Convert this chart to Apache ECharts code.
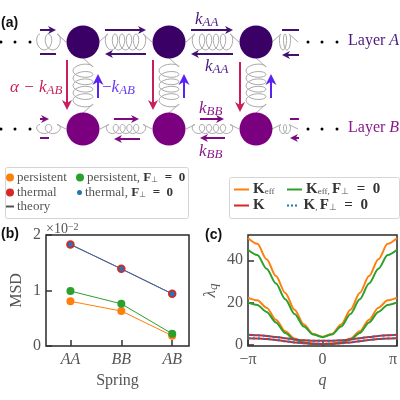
<!DOCTYPE html>
<html><head><meta charset="utf-8">
<style>html,body{margin:0;padding:0;background:#fff}#c{width:400px;height:400px}</style>
<script src="https://cdn.jsdelivr.net/npm/echarts@6/dist/echarts.min.js"></script>
</head><body><div id="c"></div>
<script>
// ---- panel (b)
const springs = ['AA','BB','AB'];
const msdPersistent = [0.805,0.63,0.186];
const msdThermal = [1.83,1.39,0.94];
const msdPersistentF0 = [0.99,0.76,0.22];
const msdThermalF0 = [1.83,1.39,0.94];
// ---- panel (c): q in units of pi
const qValues = [-1,-0.875,-0.75,-0.625,-0.5,-0.375,-0.25,-0.125,0,0.125,0.25,0.375,0.5,0.625,0.75,0.875,1];
const keffUpper = [50.6,47.8,40.5,32.5,24.5,16.5,9.5,5,3.7,5,9.5,16.5,24.5,32.5,40.5,47.8,50.6];
const keffLower = [22.3,21,17.5,11.8,6.3,2.9,1.1,0.5,0.3,0.5,1.1,2.9,6.3,11.8,17.5,21,22.3];
const keffF0Upper = [45,42.5,36,29,21.5,14.5,8.5,4.8,3.5,4.8,8.5,14.5,21.5,29,36,42.5,45];
const keffF0Lower = [20,18.8,15.5,10.5,5.5,2.4,0.8,0.3,0.2,0.3,0.8,2.4,5.5,10.5,15.5,18.8,20];
const kUpper = [4.6,4.4,4.1,3.6,3,2.4,2,1.8,1.8,1.8,2,2.4,3,3.6,4.1,4.4,4.6];
const kLower = [3,2.9,2.6,2.2,1.6,1,0.6,0.35,0.3,0.35,0.6,1,1.6,2.2,2.6,2.9,3];
// ---- panel (a): schematic, in a 400 x 160 unit space
const nodeColumns = [83,169,256];
const layerRows = [42,129];
const dotColumns = [1,15,30,308,322,337];
const hSprings = [[40,42,66,42,2,8,1],[99,42,152,42,5,8,0],[186,42,239,42,5,8,0],[272,42,298,42,2,8,0],
                  [40,129,66,129,2,4.5,1],[100,129,152,129,5,4.5,0],[186,129,239,129,5,4.5,0],[272,129,298,129,2,4.5,0]];
const vSprings = [[83,58,83,113,5,10],[169,58,169,113,5,10],[256,58,256,113,5,10]];
// x1,y1,x2,y2,colour index,head length
const arrows = [
 [40,30,56,30,0,8],[40,54,56,54,0,0],[105,30,146,30,0,8],[146,54,105,54,0,8],[191,30,233,30,0,8],[233,54,191,54,0,8],[282,30,299,30,0,0],[299,55,282,55,0,8],
 [40,119,49,119,1,8],[40,138,49,138,1,0],[114,119,139,119,1,8],[140,139,114,139,1,8],[200,119,224,119,1,8],[225,138,200,138,1,8],[290,119,299,119,1,0],[299,138,290,138,1,8],
 [67,60,67,110,2,10],[153,60,153,110,2,10],[240,62,240,112,2,10],
 [98,98,98,74,3,11],[184,98,184,74,3,11],[271,98,271,74,3,11]];
const arrowColors = ['#42106e','#7d0a80','#c81e5c','#5a22f5'];

const serif = '"Liberation Serif", serif';
const gray = '#555';
const mathRich = (c,size) => ({
  i:{fontFamily:serif,fontStyle:'italic',fontSize:size,color:c,fill:c},
  s:{fontFamily:serif,fontStyle:'italic',fontSize:size-4,color:c,fill:c,verticalAlign:'bottom',padding:[6,0,0,0]},
  n:{fontFamily:serif,fontSize:size,color:c,fill:c}
});
const legendRichB = {
  a:{fontFamily:serif,fontSize:13,color:gray},
  b:{fontFamily:serif,fontSize:13,fontWeight:'bold',color:'#333'},
  s:{fontFamily:serif,fontSize:8,color:gray,padding:[5,0,0,0]}
};
const legendRichC = {
  b:{fontFamily:serif,fontSize:15,fontWeight:'bold',color:'#333'},
  s:{fontFamily:serif,fontSize:9,color:gray,padding:[5,0,0,0]}
};
const legendText = {
  'persistent':'{a|persistent}','thermal':'{a|thermal}','theory':'{a|theory}',
  'persistent, F⊥ = 0':'{a|persistent, }{b|F}{s|⊥}{b|\u2002=\u20020}',
  'thermal, F⊥ = 0':'{a|thermal, }{b|F}{s|⊥}{b|\u2002=\u20020}',
  'Keff':'{b|K}{s|eff}','K':'{b|K}',
  'Keff, F⊥ = 0':'{b|K}{s|eff, }{b|F}{s|⊥}{b|\u2002=\u20020}',
  'K, F⊥ = 0':'{b|K}{s|, }{b|F}{s|⊥}{b|\u2002=\u20020}'
};
const legendB = {orient:'vertical',padding:0,selectedMode:false,formatter:n=>legendText[n],textStyle:{rich:legendRichB,padding:[0,0,0,-2]}};
const legendC = {orient:'vertical',padding:0,selectedMode:false,formatter:n=>legendText[n],textStyle:{rich:legendRichC,padding:[0,0,0,-1]}};

function coil(api,x1,y1,x2,y2,n,amp,openStart){
  const p1=api.coord([x1,y1]),p2=api.coord([x2,y2]);
  const horizontal=Math.abs(x2-x1)>Math.abs(y2-y1);
  const L=horizontal?p2[0]-p1[0]:p2[1]-p1[1];
  const c0=horizontal?p1[1]:p1[0];
  const lead=openStart?0:(horizontal?9:9);
  const leadEnd=horizontal?9:9;
  const span=L-lead-leadEnd;
  const rx=(span/n)*0.62;
  const pts=[];
  const base=horizontal?p1[0]:p1[1];
  if(!openStart)pts.push(horizontal?[p1[0],c0]:[c0,p1[1]]);
  const steps=n*18;
  for(let i=0;i<=steps;i++){
    const s=i/steps,th=2*Math.PI*n*s;
    const along=base+lead+span*s-rx*Math.sin(th);
    const across=c0-amp*Math.cos(th)*(horizontal?1:-1);
    pts.push(horizontal?[along,across]:[across,along]);
  }
  pts.push(horizontal?[p2[0],c0]:[c0,p2[1]]);
  return pts;
}
const springRender=(params,api)=>({type:'polyline',shape:{points:coil(api,api.value(0),api.value(1),api.value(2),api.value(3),api.value(4),api.value(5),api.value(6))},style:{stroke:'#aaaaaa',lineWidth:1,fill:null},silent:true});
const arrowRender=(params,api)=>{
  const a=api.coord([api.value(0),api.value(1)]),b=api.coord([api.value(2),api.value(3)]);
  const col=arrowColors[api.value(4)],hl=api.value(5);
  const d=Math.hypot(b[0]-a[0],b[1]-a[1]),ux=(b[0]-a[0])/d,uy=(b[1]-a[1])/d,nx=-uy,ny=ux,hw=hl*0.5;
  const kids=[{type:'line',shape:{x1:a[0],y1:a[1],x2:b[0]-ux*hl*0.5,y2:b[1]-uy*hl*0.5},style:{stroke:col,lineWidth:2}}];
  if(hl>0)kids.push({type:'polygon',shape:{points:[[b[0],b[1]],[b[0]-ux*hl+nx*hw,b[1]-uy*hl+ny*hw],[b[0]-ux*hl*0.7,b[1]-uy*hl*0.7],[b[0]-ux*hl-nx*hw,b[1]-uy*hl-ny*hw]]},style:{fill:col}});
  return {type:'group',children:kids};
};
const label=(x,y,text,rich)=>({type:'text',x,y,silent:true,style:{text,rich,fontFamily:serif,fontSize:17}});
const panel=(x,y,t)=>({type:'text',x,y,silent:true,style:{text:t,fontFamily:'"Liberation Sans",sans-serif',fontWeight:'bold',fontSize:14,fill:'#111'}});
const cA='#4a1a80',cB='#8a1a8a',cR='#c81e5c',cP='#6a3cf0';
const axisName={fontFamily:serif,fontSize:16,color:gray};
const tick={show:true,inside:true,length:6,lineStyle:{color:'#333',width:1.5}};
const tickFont={fontFamily:serif,fontSize:16,color:gray};
const lineS=(name,data,color,extra)=>Object.assign({type:'line',name,xAxisIndex:1,yAxisIndex:1,data:qValues.map((q,i)=>[q,data[i]]),smooth:0.3,smoothMonotone:'x',symbol:'none',lineStyle:{color,width:2},itemStyle:{color},silent:true},extra||{});
const msdS=(name,data,color,size)=>({type:'line',name,xAxisIndex:0,yAxisIndex:0,data:data.map((v,i)=>[i,v]),symbol:'circle',symbolSize:size,lineStyle:{color,width:1},itemStyle:{color},silent:true});

const chart=echarts.init(document.getElementById('c'),null,{renderer:'canvas'});
chart.setOption({
  animation:false,backgroundColor:'#fff',
  grid:[
    {left:46,top:235,width:143,height:111,show:true,borderColor:'#2a2a2a',borderWidth:1.5,backgroundColor:'transparent'},
    {left:248,top:235,width:149,height:111,show:true,borderColor:'#2a2a2a',borderWidth:1.5,backgroundColor:'transparent'},
    {left:0,top:0,width:400,height:160}
  ],
  xAxis:[
    {type:'value',gridIndex:0,min:-0.48,max:2.33,axisLine:{show:false,onZero:false},splitLine:{show:false},
     axisTick:Object.assign({customValues:[0,1,2]},tick),
     axisLabel:Object.assign({customValues:[0,1,2],formatter:v=>springs[v],fontStyle:'italic',margin:6},tickFont),
     name:'Spring',nameLocation:'middle',nameGap:27,nameTextStyle:axisName},
    {type:'value',gridIndex:1,min:-1,max:1,interval:1,axisLine:{show:false,onZero:false},splitLine:{show:false},axisTick:tick,
     axisLabel:Object.assign({formatter:v=>v===0?'0':(v<0?'−π':'π'),margin:6,hideOverlap:false,alignMinLabel:'center',alignMaxLabel:'right'},tickFont),
     name:'q',nameLocation:'middle',nameGap:27,nameTextStyle:Object.assign({},axisName,{fontStyle:'italic'})},
    {type:'value',gridIndex:2,min:0,max:400,show:false}
  ],
  yAxis:[
    {type:'value',gridIndex:0,min:0,max:2,interval:1,axisLine:{show:false,onZero:false},splitLine:{show:false},axisTick:tick,
     axisLabel:Object.assign({margin:5},tickFont),
     name:'MSD',nameLocation:'middle',nameGap:21,nameTextStyle:axisName},
    {type:'value',gridIndex:1,min:-0.7,max:52,axisLine:{show:false,onZero:false},splitLine:{show:false},
     axisTick:Object.assign({customValues:[0,20,40]},tick),
     axisLabel:Object.assign({customValues:[0,20,40],margin:5},tickFont),
     name:'{i|λ}{s|q}',nameLocation:'middle',nameGap:28,nameTextStyle:{rich:mathRich(gray,17)}},
    {type:'value',gridIndex:2,min:0,max:160,inverse:true,show:false}
  ],
  legend:[
    Object.assign({},legendB,{left:6,top:171,itemWidth:8,itemHeight:8,data:[{name:'persistent',icon:'circle'}]}),
    Object.assign({},legendB,{left:6,top:186,itemWidth:8,itemHeight:8,data:[{name:'thermal',icon:'circle'}]}),
    Object.assign({},legendB,{left:76,top:171,itemWidth:8,itemHeight:8,data:[{name:'persistent, F⊥ = 0',icon:'circle'}]}),
    Object.assign({},legendB,{left:77,top:186,itemWidth:5,itemHeight:5,data:[{name:'thermal, F⊥ = 0',icon:'circle'}]}),
    Object.assign({},legendB,{left:6,top:200,itemWidth:8,itemHeight:2,data:[{name:'theory',icon:'rect'}]}),
    Object.assign({},legendC,{left:234,top:182,itemWidth:15,itemHeight:2,data:[{name:'Keff',icon:'rect'}]}),
    Object.assign({},legendC,{left:234,top:198,itemWidth:15,itemHeight:2,data:[{name:'K',icon:'rect'}]}),
    Object.assign({},legendC,{left:287,top:182,itemWidth:15,itemHeight:2,data:[{name:'Keff, F⊥ = 0',icon:'rect'}]}),
    Object.assign({},legendC,{left:287,top:198,itemWidth:15,itemHeight:2,data:[{name:'K, F⊥ = 0',icon:'path://M0 0h3v3h-3z M6 0h3v3h-3z M12 0h3v3h-3z'}]})
  ],
  graphic:[
    {type:'rect',z:-1,shape:{x:5.5,y:167.5,width:183,height:51,r:2},style:{fill:'#fff',stroke:'#d5d5d5',lineWidth:1}},
    {type:'rect',z:-1,shape:{x:229.5,y:177.5,width:170,height:41,r:2},style:{fill:'#fff',stroke:'#d5d5d5',lineWidth:1}},
    panel(1,16,'(a)'),panel(1,227,'(b)'),panel(205,228,'(c)'),
    {type:'text',x:46,y:222,silent:true,style:{text:'×10{u|−2}',fontFamily:serif,fontSize:14,fill:gray,rich:{u:{fontFamily:serif,fontSize:10,fill:gray,padding:[0,0,5,0]}}}},
    label(195,10,'{i|k}{s|AA}',mathRich(cA,17)),
    label(205,57,'{i|k}{s|AA}',mathRich(cA,17)),
    label(199,99,'{i|k}{s|BB}',mathRich(cB,17)),
    label(199,142,'{i|k}{s|BB}',mathRich(cB,17)),
    label(10,78,'{i|α − k}{s|AB}',mathRich(cR,17)),
    label(102,78,'{n|−}{i|k}{s|AB}',mathRich(cP,17)),
    label(348,33,'{n|Layer }{i|A}',mathRich(cA,16)),
    label(348,120,'{n|Layer }{i|B}',mathRich(cB,16))
  ],
  series:[
    msdS('persistent',msdPersistent,'#ff7f0e',8),
    msdS('thermal',msdThermal,'#d62728',8.5),
    msdS('persistent, F⊥ = 0',msdPersistentF0,'#2ca02c',8),
    msdS('thermal, F⊥ = 0',msdThermalF0,'#1f77b4',5),
    {type:'line',name:'theory',xAxisIndex:0,yAxisIndex:0,data:[],itemStyle:{color:'#555'},lineStyle:{color:'#555'}},
    lineS('Keff',keffUpper,'#ff7f0e'),lineS('Keff',keffLower,'#ff7f0e'),
    lineS('Keff, F⊥ = 0',keffF0Upper,'#2ca02c'),lineS('Keff, F⊥ = 0',keffF0Lower,'#2ca02c'),
    lineS('K',kUpper,'#d62728'),lineS('K',kLower,'#d62728'),
    lineS('K, F⊥ = 0',kUpper,'#1f77b4',{lineStyle:{color:'#1f77b4',width:2,type:[2,3]}}),
    lineS('K, F⊥ = 0',kLower,'#1f77b4',{lineStyle:{color:'#1f77b4',width:2,type:[2,3]}}),
    {type:'custom',xAxisIndex:2,yAxisIndex:2,renderItem:springRender,data:hSprings.concat(vSprings.map(r=>r.concat(0))),silent:true,z:1},
    {type:'custom',xAxisIndex:2,yAxisIndex:2,renderItem:arrowRender,data:arrows,silent:true,z:3},
    {type:'scatter',xAxisIndex:2,yAxisIndex:2,symbolSize:33,silent:true,z:2,itemStyle:{color:'#3a0066',opacity:1},data:nodeColumns.map(x=>[x,layerRows[0]])},
    {type:'scatter',xAxisIndex:2,yAxisIndex:2,symbolSize:33,silent:true,z:2,itemStyle:{color:'#7a0080',opacity:1},data:nodeColumns.map(x=>[x,layerRows[1]])},
    {type:'scatter',xAxisIndex:2,yAxisIndex:2,symbolSize:3,silent:true,itemStyle:{color:'#000',opacity:1},data:layerRows.flatMap(y=>dotColumns.map(x=>[x,y]))}
  ]
});
</script></body></html>
